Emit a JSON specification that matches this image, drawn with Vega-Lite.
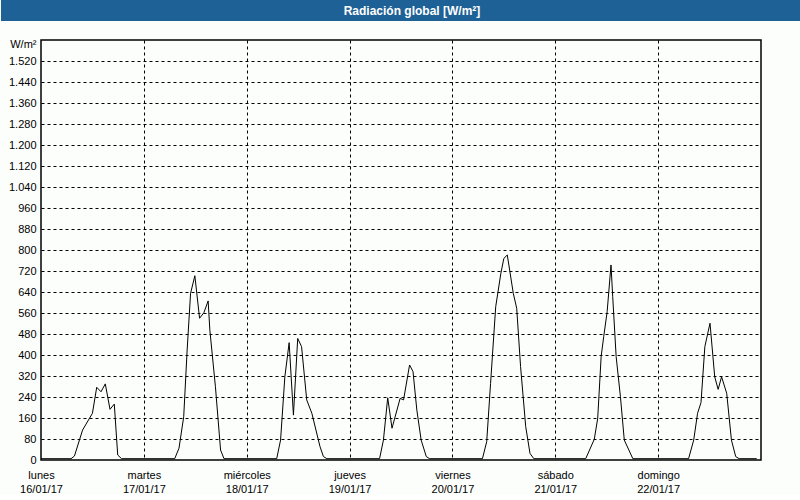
{
  "$schema": "https://vega.github.io/schema/vega-lite/v6.json",
  "background": "#fcfefc",
  "padding": {"left": 0, "right": 0, "top": 0, "bottom": 0},
  "spacing": 16,
  "config": {
    "font": "Liberation Sans"
  },
  "vconcat": [
    {
      "width": 760,
      "height": 21,
      "view": {"fill": "#1e6196", "stroke": null},
      "data": {"values": [{"title": "Radiación global [W/m²]"}]},
      "mark": {"type": "text", "color": "white", "fontWeight": "bold", "fontSize": 12, "font": "Liberation Sans", "baseline": "middle", "align": "center", "dx": -9},
      "encoding": {
        "text": {"field": "title"},
        "y": {
          "field": "title", "type": "nominal",
          "axis": {"title": null, "labels": false, "ticks": false, "grid": false, "domain": true, "domainColor": "#1e6196", "domainWidth": 80, "domainOpacity": 1, "translate": 0, "minExtent": 0, "maxExtent": 40}
        }
      }
    },
    {
      "width": 720,
      "height": 420,
      "view": {"stroke": "#000000", "strokeWidth": 1.5, "fill": "#fcfefc"},
      "data": {
        "values": [
          {"t": 0, "v": 5}, {"t": 7.0, "v": 5}, {"t": 7.8, "v": 15}, {"t": 9.7, "v": 114}, {"t": 12.0, "v": 178}, {"t": 13.0, "v": 277}, {"t": 14.0, "v": 260}, {"t": 15.0, "v": 290}, {"t": 16.1, "v": 193}, {"t": 17.1, "v": 213}, {"t": 17.9, "v": 19}, {"t": 18.8, "v": 5},
          {"t": 31.2, "v": 5}, {"t": 32.2, "v": 45}, {"t": 33.3, "v": 165}, {"t": 34.1, "v": 419}, {"t": 34.9, "v": 635}, {"t": 35.9, "v": 702}, {"t": 37.0, "v": 540}, {"t": 38.0, "v": 561}, {"t": 39.0, "v": 606}, {"t": 39.4, "v": 495}, {"t": 40.7, "v": 279}, {"t": 41.9, "v": 38}, {"t": 42.7, "v": 5},
          {"t": 55.0, "v": 5}, {"t": 55.9, "v": 76}, {"t": 56.9, "v": 317}, {"t": 57.9, "v": 447}, {"t": 58.9, "v": 171}, {"t": 59.9, "v": 463}, {"t": 60.8, "v": 432}, {"t": 62.0, "v": 229}, {"t": 63.2, "v": 178}, {"t": 65.1, "v": 51}, {"t": 65.9, "v": 13}, {"t": 66.7, "v": 5},
          {"t": 79.0, "v": 5}, {"t": 79.9, "v": 76}, {"t": 80.9, "v": 237}, {"t": 81.9, "v": 121}, {"t": 83.8, "v": 235}, {"t": 84.6, "v": 229}, {"t": 86.0, "v": 362}, {"t": 86.8, "v": 337}, {"t": 87.7, "v": 190}, {"t": 88.7, "v": 76}, {"t": 89.9, "v": 13}, {"t": 90.7, "v": 5},
          {"t": 103.0, "v": 5}, {"t": 104.0, "v": 70}, {"t": 104.9, "v": 292}, {"t": 106.1, "v": 584}, {"t": 107.3, "v": 711}, {"t": 108.0, "v": 768}, {"t": 108.8, "v": 781}, {"t": 110.2, "v": 635}, {"t": 111.0, "v": 578}, {"t": 111.9, "v": 356}, {"t": 113.1, "v": 127}, {"t": 114.1, "v": 25}, {"t": 115.0, "v": 5},
          {"t": 127.1, "v": 5}, {"t": 129.1, "v": 79}, {"t": 129.9, "v": 159}, {"t": 130.7, "v": 394}, {"t": 131.3, "v": 470}, {"t": 132.1, "v": 565}, {"t": 133.0, "v": 743}, {"t": 133.4, "v": 622}, {"t": 134.2, "v": 394}, {"t": 135.2, "v": 241}, {"t": 136.1, "v": 76}, {"t": 138.1, "v": 5},
          {"t": 151.1, "v": 5}, {"t": 152.3, "v": 76}, {"t": 153.2, "v": 178}, {"t": 154.0, "v": 219}, {"t": 154.9, "v": 432}, {"t": 156.1, "v": 521}, {"t": 157.2, "v": 317}, {"t": 158.0, "v": 269}, {"t": 158.8, "v": 317}, {"t": 160.0, "v": 254}, {"t": 161.1, "v": 76}, {"t": 162.1, "v": 13}, {"t": 162.9, "v": 5}, {"t": 167.0, "v": 5}
        ]
      },
      "mark": {"type": "line", "color": "#000000", "strokeWidth": 1, "interpolate": "linear"},
      "encoding": {
        "x": {
          "field": "t", "type": "quantitative",
          "scale": {"domain": [0, 168], "nice": false, "zero": false},
          "axis": {
            "title": null,
            "values": [0, 24, 48, 72, 96, 120, 144],
            "domain": false,
            "ticks": false,
            "grid": true,
            "gridColor": "#000000",
            "gridDash": [3, 3],
            "gridWidth": 1,
            "gridOpacity": {"condition": {"test": "datum.value == 0", "value": 0}, "value": 1},
            "labelFont": "Liberation Sans",
            "labelFontSize": 11,
            "labelColor": "#000000",
            "labelPadding": 9,
            "labelLineHeight": 14,
            "labelBaseline": "top",
            "labelAlign": "center",
            "labelFlush": false,
            "labelOverlap": false,
            "labelExpr": "[['lunes','16/01/17'],['martes','17/01/17'],['miércoles','18/01/17'],['jueves','19/01/17'],['viernes','20/01/17'],['sábado','21/01/17'],['domingo','22/01/17']][round(datum.value/24)]"
          }
        },
        "y": {
          "field": "v", "type": "quantitative",
          "scale": {"domain": [0, 1600], "nice": false},
          "axis": {
            "title": null,
            "values": [0, 80, 160, 240, 320, 400, 480, 560, 640, 720, 800, 880, 960, 1040, 1120, 1200, 1280, 1360, 1440, 1520, 1600],
            "domain": false,
            "ticks": false,
            "grid": true,
            "gridColor": "#000000",
            "gridDash": [3, 3],
            "gridWidth": 1,
            "gridOpacity": {"condition": {"test": "datum.value == 0 || datum.value == 1600", "value": 0}, "value": 1},
            "labelFont": "Liberation Sans",
            "labelFontSize": 11,
            "labelColor": "#000000",
            "labelPadding": 5,
            "labelOverlap": false,
            "labelFlush": false,
            "labelOffset": {"condition": {"test": "datum.value == 1600", "value": 4}, "value": 0},
            "minExtent": 40,
            "maxExtent": 40,
            "labelExpr": "datum.value == 1600 ? 'W/m²' : replace(format(datum.value, ','), ',', '.')"
          }
        }
      }
    }
  ]
}
